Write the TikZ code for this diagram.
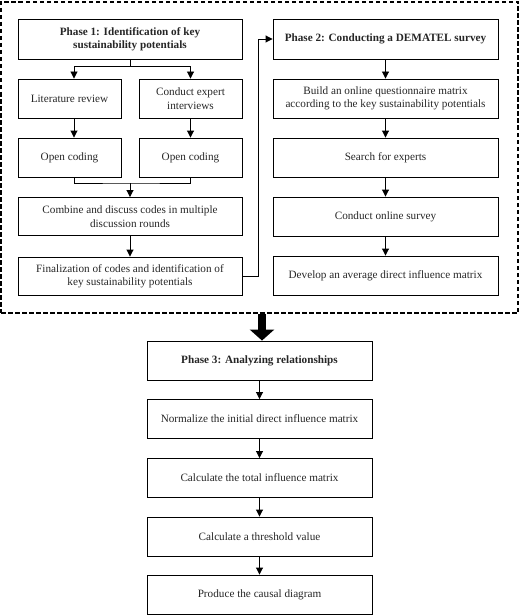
\documentclass[tikz,border=0pt]{standalone}
\usepackage{fontspec}
\setmainfont{Liberation Serif}
\usetikzlibrary{arrows.meta}
\begin{document}
\begin{tikzpicture}[x=1pt,y=-1pt,
  box/.style={draw=black, line width=0.9pt, inner sep=0pt, align=center,
    text=black!85, font=\fontsize{11.2}{13.4}\selectfont},
  wide/.style={box, minimum width=224pt, minimum height=39pt},
  half/.style={box, minimum width=103pt, minimum height=39pt},
  title/.style={font=\fontsize{11.2}{13.4}\selectfont\bfseries},
  conn/.style={line width=0.9pt, -{Triangle[length=7pt,width=7pt]}},
  plain/.style={line width=0.9pt},
  frame/.style={draw=black, line width=1.1pt, dash pattern=on 4.5pt off 2.5pt, inner sep=0pt},
  bigarrow/.style={line width=8pt, -{Triangle[length=11pt,width=24pt]}}]
\useasboundingbox (0,0) rectangle (520,615);
% dashed frame
\node[frame, minimum width=517pt, minimum height=311pt] (frame) at (259.5,157.5) {};
% Phase 1
\node[wide, title, minimum height=40pt] (p1) at (130,39) {Phase 1: Identification of key\\sustainability potentials};
\node[half] (lit) at (69.5,98.5) {Literature review};
\node[half] (exp) at (190.5,98.5) {Conduct expert\\interviews};
\node[half] (oc1) at (69.5,157.5) {Open coding};
\node[half] (oc2) at (190.5,157.5) {Open coding};
\node[wide, minimum height=38pt] (comb) at (130,216.5) {Combine and discuss codes in multiple\\discussion rounds};
\node[wide, minimum height=38pt] (fin) at (130,276) {Finalization of codes and identification of\\key sustainability potentials};
% Phase 2
\node[wide, title, minimum width=225pt, minimum height=40pt] (p2) at (385.5,39) {Phase 2: Conducting a DEMATEL survey};
\node[wide, minimum width=225pt] (build) at (385.5,98.5) {Build an online questionnaire matrix\\according to the key sustainability potentials};
\node[wide, minimum width=225pt] (search) at (385.5,157.5) {Search for experts};
\node[wide, minimum width=225pt] (survey) at (385.5,216.5) {Conduct online survey};
\node[wide, minimum width=225pt] (dev) at (385.5,275.5) {Develop an average direct influence matrix};
% Phase 3
\node[wide, title, minimum width=225pt] (p3) at (259.5,360.5) {Phase 3: Analyzing relationships};
\node[wide, minimum width=225pt] (norm) at (259.5,419) {Normalize the initial direct influence matrix};
\node[wide, minimum width=225pt] (total) at (259.5,478) {Calculate the total influence matrix};
\node[wide, minimum width=225pt] (thr) at (259.5,536.5) {Calculate a threshold value};
\node[wide, minimum width=225pt] (prod) at (259.5,594.5) {Produce the causal diagram};
% Phase 1 connectors
\coordinate (split) at (130,66);
\coordinate (merge) at (130,183);
\coordinate (lx) at (74,0);
\draw[plain] (p1.south) -- (split);
\draw[conn] (split) -| (lx |- lit.north);
\draw[conn] (split) -| (exp.north);
\draw[conn] (lx |- lit.south) -- (lx |- oc1.north);
\draw[conn] (exp.south) -- (oc2.north);
\draw[plain] (lx |- oc1.south) |- (merge) -| (oc2.south);
\draw[conn] (merge) -- (comb.north);
\draw[conn] (comb.south) -- (fin.north);
% link to Phase 2
\coordinate (riser) at (258,0);
\draw[conn] (fin.east) -| (riser |- p2.west) -- (p2.west);
% Phase 2 connectors
\draw[conn] (p2.south) -- (build.north);
\draw[conn] (build.south) -- (search.north);
\draw[conn] (search.south) -- (survey.north);
\draw[conn] (survey.south) -- (dev.north);
% big arrow
\coordinate (bx) at (262,0);
\draw[bigarrow] (bx |- frame.south) -- (bx |- p3.north);
% Phase 3 connectors
\draw[conn] (p3.south) -- (norm.north);
\draw[conn] (norm.south) -- (total.north);
\draw[conn] (total.south) -- (thr.north);
\draw[conn] (thr.south) -- (prod.north);
\end{tikzpicture}
\end{document}
